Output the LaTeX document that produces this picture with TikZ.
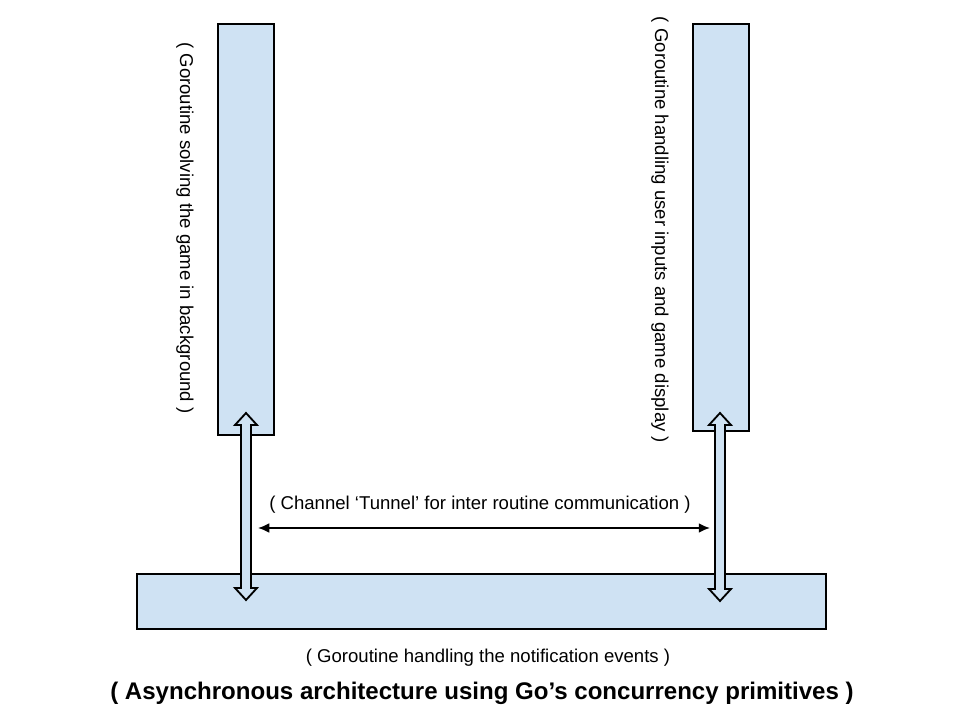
\documentclass[tikz,border=0pt]{standalone}
\usepackage{fontspec}
\setmainfont{Liberation Sans}
\usetikzlibrary{arrows.meta}

\definecolor{routinefill}{HTML}{CFE2F3}

% hollow double arrow: x, top tip, bottom tip (pixel units, y downwards)
\newcommand{\pipearrow}[3]{%
  \draw[pipe] (#1,#2) -- ({#1+11},{#2+12}) -- ({#1+5},{#2+12})
    -- ({#1+5},{#3-12}) -- ({#1+11},{#3-12}) -- (#1,#3)
    -- ({#1-11},{#3-12}) -- ({#1-5},{#3-12}) -- ({#1-5},{#2+12})
    -- ({#1-11},{#2+12}) -- cycle;}

\begin{document}
\begin{tikzpicture}[x=0.025cm, y=-0.025cm,
    routine/.style={draw, line width=1.2pt, fill=routinefill, inner sep=0pt},
    pipe/.style={draw, line width=1.3pt, fill=routinefill, line join=miter},
    caption/.style={font=\fontsize{13.2}{15}\selectfont, inner sep=0pt}]
                \useasboundingbox (0,0) rectangle (960,720);

                % Goroutine boxes
                \node[routine, minimum width=1.4cm, minimum height=10.275cm] (solver) at (246,229.5) {};
                \node[routine, minimum width=1.4cm, minimum height=10.175cm] (ui) at (721,227.5) {};
                \node[routine, minimum width=17.225cm, minimum height=1.375cm] (notify) at (481.5,601.5) {};

                % Rotated labels beside the upper boxes
                \node[caption, rotate=-90] (solverlabel) at (185,228) {( Goroutine solving the game in background )};
                \node[caption, rotate=-90] (uilabel) at (660,230) {( Goroutine handling user inputs and game display )};

                % Double arrows linking the routines
                \pipearrow{246}{413}{600}
                \pipearrow{720}{413}{601}

                % Channel between the two pipes
                \coordinate (chanL) at (258,528);
                \coordinate (chanR) at (710,528);
                \draw[line width=1.3pt, {Latex[length=8pt,width=7pt]}-{Latex[length=8pt,width=7pt]}] (chanL) -- (chanR);
                \node[caption] (chanlabel) at (480,505) {( Channel ‘Tunnel’ for inter routine communication )};

                % Bottom label and title
                \node[caption] (notifylabel) at (488,658) {( Goroutine handling the notification events )};
                \node[font=\fontsize{17.1}{19}\selectfont\bfseries, inner sep=0pt] (title) at (482,693) {( Asynchronous architecture using Go’s concurrency primitives )};
            \end{tikzpicture}
\end{document}
